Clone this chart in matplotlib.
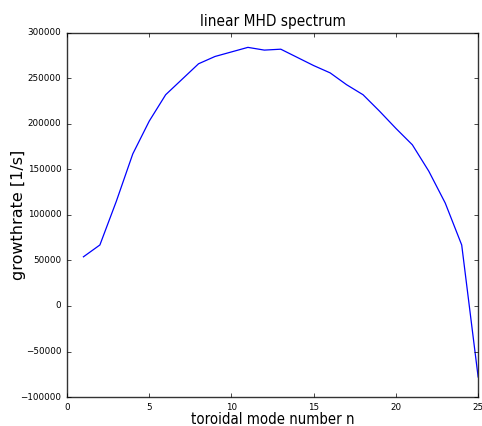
import numpy as np
import matplotlib
matplotlib.use('Agg')
import matplotlib.pyplot as plt

plt.style.use('classic')

# toroidal mode numbers and growth rates
mode_n = [1, 2, 3, 4, 5, 6, 7, 8, 9, 10, 11, 12, 13,
          14, 15, 16, 17, 18, 19, 20, 21, 22, 23, 24, 25]
growthrate = [54000, 67000, 115000, 167000, 203000, 232000, 249000, 266000,
              274000, 279000, 284000, 281000, 282000, 273000, 264000, 256000,
              243000, 232000, 214000, 195000, 177000, 148000, 113000, 67000,
              -78000]

fig = plt.figure(figsize=(4.82, 4.26), dpi=100)
fig.patch.set_facecolor('white')
ax = fig.add_axes([0.139, 0.068, 0.853, 0.855])

ax.plot(mode_n, growthrate, color='blue', linewidth=0.9)
ax.set_xlim(0, 25)
ax.set_ylim(-100000, 300000)
ax.set_xticks(np.arange(0, 26, 5))
ax.set_yticks(np.arange(-100000, 300001, 50000))
ax.tick_params(labelsize=6.3, length=3)
for s in ax.spines.values():
    s.set_edgecolor('#333333')

ax.set_title('linear MHD spectrum', fontsize=11, fontstretch='condensed')
ax.set_xlabel('toroidal mode number n', fontsize=10.7, fontstretch='condensed', labelpad=0)
ax.set_ylabel('growthrate [1/s]', fontsize=11.5, labelpad=-4)

fig.savefig('out.png', dpi=100, facecolor='white')
